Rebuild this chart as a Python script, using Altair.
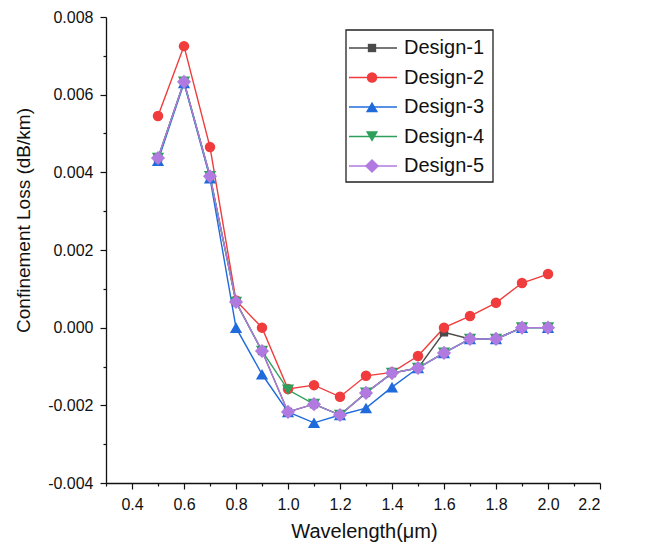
import altair as alt
import pandas as pd

# Wavelength samples (µm)
wavelength = [0.5, 0.6, 0.7, 0.8, 0.9, 1.0, 1.1, 1.2, 1.3, 1.4, 1.5, 1.6, 1.7, 1.8, 1.9, 2.0]

designs = ["Design-1", "Design-2", "Design-3", "Design-4", "Design-5"]

# Confinement loss (dB/km) per design
design1 = [0.00437, 0.00633, 0.00390, 0.00066, -0.00060, -0.00217, -0.00197, -0.00225,
           -0.00168, -0.00117, -0.00104, -0.00012, -0.00029, -0.00029, 0.00000, 0.00000]
design2 = [0.00545, 0.00725, 0.00465, 0.00070, 0.00000, -0.00158, -0.00148, -0.00178,
           -0.00124, -0.00115, -0.00073, 0.00000, 0.00030, 0.00064, 0.00115, 0.00138]
design3 = [0.00430, 0.00630, 0.00385, 0.00000, -0.00120, -0.00217, -0.00245, -0.00225,
           -0.00207, -0.00153, -0.00104, -0.00065, -0.00029, -0.00029, 0.00000, 0.00000]
design4 = [0.00437, 0.00633, 0.00390, 0.00066, -0.00060, -0.00160, -0.00197, -0.00225,
           -0.00168, -0.00117, -0.00104, -0.00065, -0.00029, -0.00029, 0.00000, 0.00000]
design5 = [0.00437, 0.00633, 0.00390, 0.00066, -0.00060, -0.00217, -0.00197, -0.00225,
           -0.00168, -0.00117, -0.00104, -0.00065, -0.00029, -0.00029, 0.00000, 0.00000]

colors = ["#4a4a4a", "#f03c3c", "#1f6bdb", "#2ca05a", "#b07ae0"]
shapes = ["square", "circle", "triangle-up", "triangle-down", "diamond"]
marker_sizes = [70, 110, 150, 150, 200]

x_major = [0.4, 0.6, 0.8, 1.0, 1.2, 1.4, 1.6, 1.8, 2.0, 2.2]
x_minor = [0.3, 0.5, 0.7, 0.9, 1.1, 1.3, 1.5, 1.7, 1.9, 2.1]
y_major = [-0.004, -0.002, 0.0, 0.002, 0.004, 0.006, 0.008]
y_minor = [-0.003, -0.001, 0.001, 0.003, 0.005, 0.007]

rows = []
for name, vals in zip(designs, [design1, design2, design3, design4, design5]):
    for w, v in zip(wavelength, vals):
        rows.append({"design": name, "wavelength": w, "loss": v})
df = pd.DataFrame(rows)
legend_df = pd.DataFrame({"design": designs, "row": list(range(len(designs)))})

FONT = "Liberation Sans"

x_scale = alt.Scale(domain=[0.3, 2.2], nice=False, zero=False)


def y_scale():
    return alt.Scale(domain=[-0.004, 0.008], nice=False, zero=False)


color_scale = alt.Scale(domain=designs, range=colors)
color_enc = alt.Color("design:N", scale=color_scale, legend=None)

x_axis = alt.Axis(
    values=x_major, format=".1f", tickSize=6, labelPadding=7, labelFontSize=16,
    title="Wavelength(μm)", titleFontSize=20, titleFontWeight="normal",
    titleX=258, titleY=48, titleBaseline="middle", orient="bottom",
)
y_axis = alt.Axis(
    values=y_major, tickSize=6, labelPadding=7, labelFontSize=16,
    labelExpr="(datum.value < -1e-9 ? '-' : '') + format(abs(datum.value), '.3f')",
    title="Confinement Loss (dB/km)", titleFontSize=19, titleFontWeight="normal",
    titleX=-83, titleY=203, titleAngle=270, titleAlign="center",
    titleBaseline="middle", orient="left",
)

# Invisible layer carrying the minor tick axes
minor = alt.Chart(df).mark_point(opacity=0).encode(
    x=alt.X("wavelength:Q", scale=x_scale,
            axis=alt.Axis(values=x_minor, labels=False, domain=False, tickSize=3,
                          title="", orient="bottom")),
    y=alt.Y("loss:Q", scale=y_scale(),
            axis=alt.Axis(values=y_minor, labels=False, domain=False, tickSize=3,
                          title="", orient="left")),
)

lines = alt.Chart(df).mark_line(strokeWidth=1.4).encode(
    x=alt.X("wavelength:Q", scale=x_scale, axis=x_axis),
    y=alt.Y("loss:Q", scale=y_scale(), axis=y_axis),
    color=color_enc,
)

# One marker layer per design, so each keeps its own shape and size
point_layers = []
for name, color, shape, size in zip(designs, colors, shapes, marker_sizes):
    point_layers.append(
        alt.Chart(df[df["design"] == name]).mark_point(
            filled=True, opacity=1, shape=shape, size=size, color=color
        ).encode(
            x=alt.X("wavelength:Q", scale=x_scale, axis=None),
            y=alt.Y("loss:Q", scale=y_scale(), axis=None),
        )
    )

# Legend box with line-and-marker samples
legend_y = alt.Y("row:Q", scale=alt.Scale(domain=[0, 4], range=[31, 149], nice=False, zero=False),
                 axis=None)

box = alt.Chart(pd.DataFrame({"k": [0]})).mark_rect(
    fill="white", stroke="#222222", strokeWidth=1.3
).encode(x=alt.value(240), x2=alt.value(387), y=alt.value(13), y2=alt.value(165))

seg = alt.Chart(legend_df).mark_rule(strokeWidth=1.4).encode(
    x=alt.value(243), x2=alt.value(291), y=legend_y, color=color_enc
)
sym_layers = []
for name, color, shape, size in zip(designs, colors, shapes, marker_sizes):
    sym_layers.append(
        alt.Chart(legend_df[legend_df["design"] == name]).mark_point(
            filled=True, opacity=1, shape=shape, size=size, color=color
        ).encode(x=alt.value(266), y=legend_y)
    )
txt = alt.Chart(legend_df).mark_text(
    align="left", baseline="middle", fontSize=20, font=FONT, color="#111111"
).encode(x=alt.value(298), y=legend_y, text="design:N")

chart = (
    alt.layer(minor, lines, *point_layers, box, seg, *sym_layers, txt)
    .resolve_scale(y="independent")
    .resolve_axis(x="independent", y="independent")
    .properties(
        width=494,
        height=466,
        padding={"left": 106, "top": 17, "right": 46, "bottom": 72},
        autosize=alt.AutoSizeParams(type="none"),
        background="white",
    )
    .configure_view(stroke=None)
    .configure_axis(
        grid=False, domainColor="#111111", domainWidth=1.3, tickColor="#111111",
        tickWidth=1.2, labelColor="#111111", titleColor="#111111",
        labelFont=FONT, titleFont=FONT,
    )
)

chart.save("out.html", embed_options={"renderer": "svg", "actions": False})
